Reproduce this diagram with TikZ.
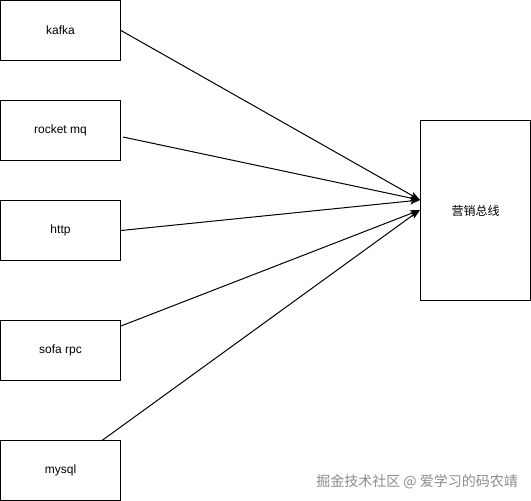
\documentclass[tikz,border=0pt]{standalone}
\usepackage{fontspec}
\setmainfont{Liberation Sans}
\newfontfamily\cjk{Noto Sans CJK SC}
\usetikzlibrary{arrows.meta}
\begin{document}
\begin{tikzpicture}[x=1pt,y=-1pt,
  box/.style={draw=black,line width=1pt,minimum width=120pt,minimum height=60pt,inner sep=0pt,font=\fontsize{12}{14}\selectfont},
  conn/.style={draw=black,line width=1pt,-{Stealth[length=10pt,width=7pt,inset=2.5pt]}},
  wm/.style={text=black!45,font=\cjk\fontsize{14}{16}\selectfont,inner sep=0pt}]
\useasboundingbox (0,0) rectangle (531,501);
\fill[white] (0,0) rectangle (531,501);
\node[box] (kafka) at (60.5,30.5) {kafka};
\node[box] (rocket) at (60.5,130.5) {rocket mq};
\node[box] (http) at (60.5,230.5) {http};
\node[box] (sofa) at (60.5,350.5) {sofa rpc};
\node[box] (mysql) at (60.5,470.5) {mysql};
\node[box,minimum width=110pt,minimum height=180pt,font=\cjk\fontsize{12}{14}\selectfont] (bus) at (475.5,210.5) {营销总线};
\coordinate (t1) at (420,200);
\coordinate (t2) at (420,210);
\coordinate (s2) at (123,137);
\coordinate (s4) at (121,326);
\coordinate (s5) at (102,440.5);
\draw[conn] (kafka.east) -- (t1);
\draw[conn] (s2) -- (t1);
\draw[conn] (http.east) -- (t1);
\draw[conn] (s4) -- (t2);
\draw[conn] (s5) -- (t2);
\node[wm,anchor=east] (wmark) at (518,482) {掘金技术社区 @ 爱学习的码农靖};
\end{tikzpicture}
\end{document}
